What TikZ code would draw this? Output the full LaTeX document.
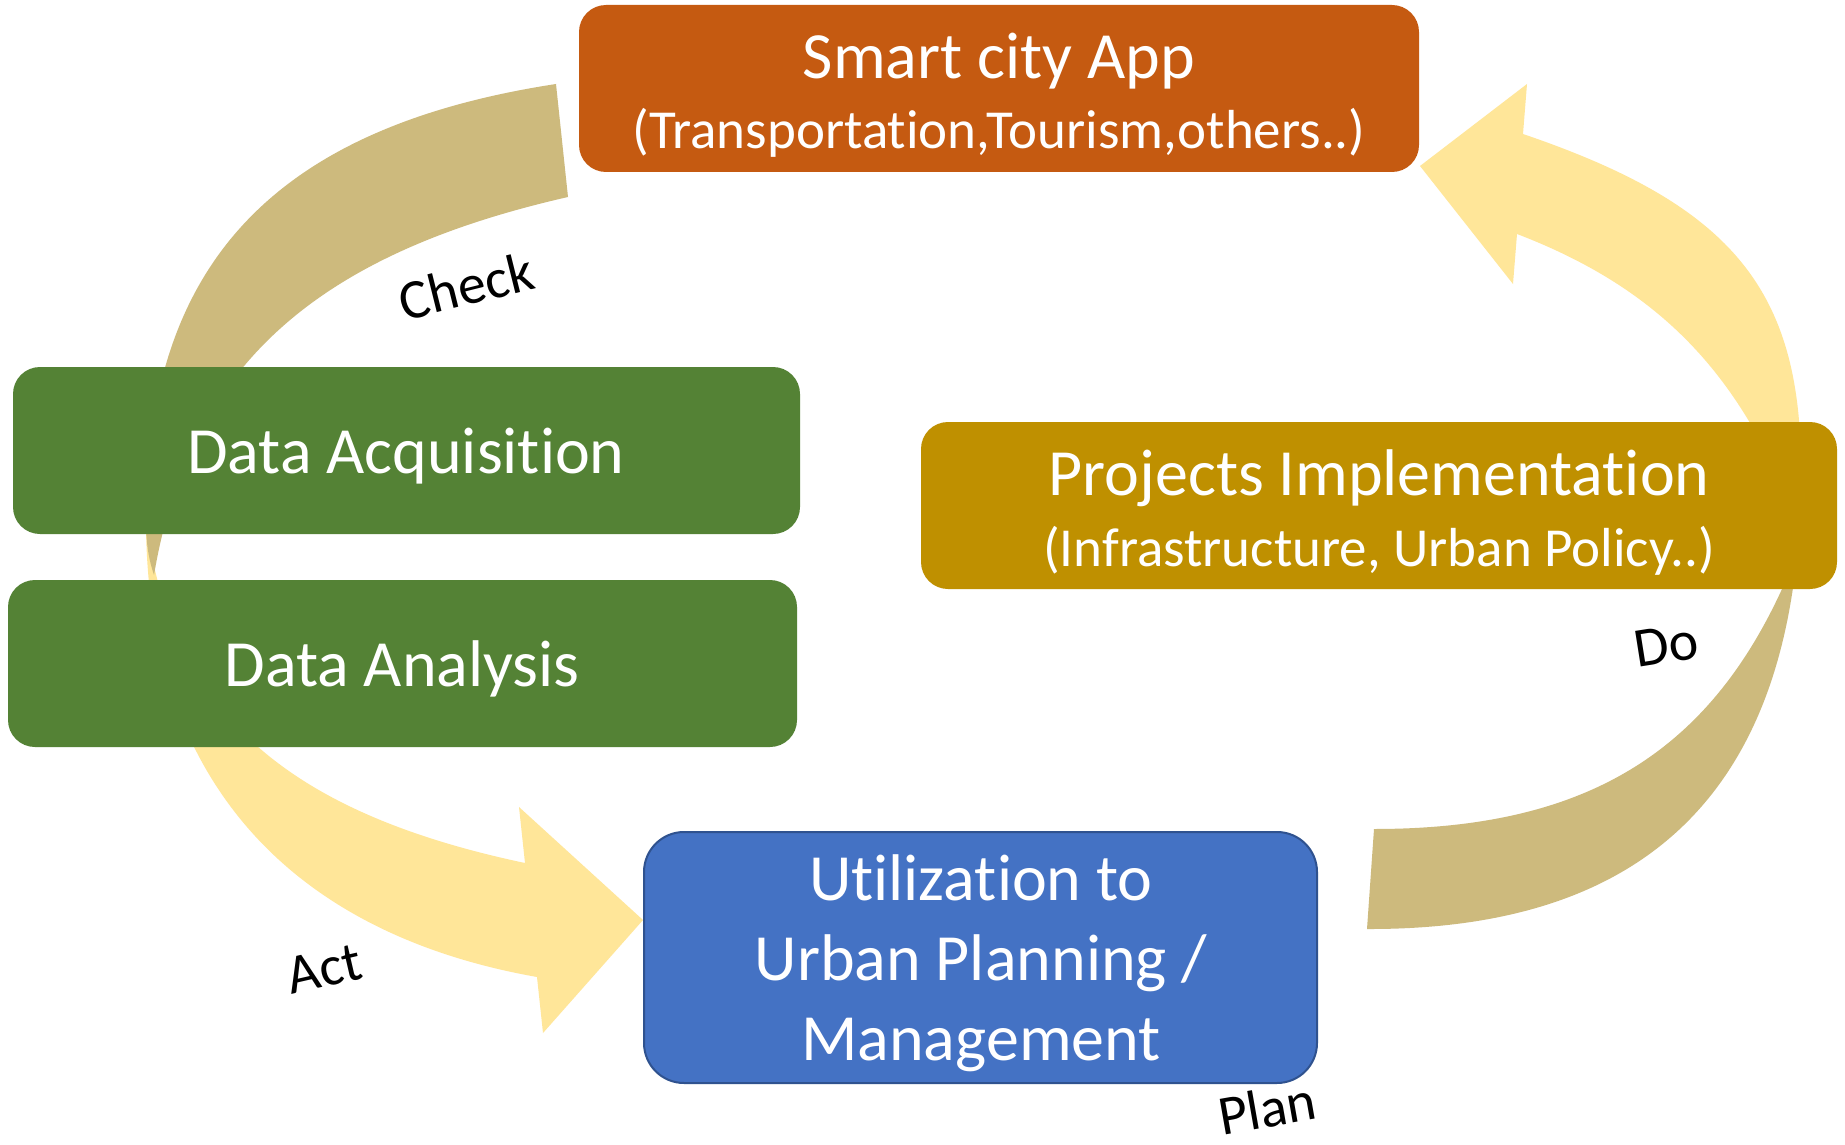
\documentclass[tikz,border=0pt]{standalone}
\usepackage{fontspec}
\setmainfont[Ligatures={NoCommon,NoContextual}, RawFeature={-liga;-clig;-dlig}]{Carlito}
\definecolor{tanc}{RGB}{205,186,125}
\definecolor{yelc}{RGB}{255,230,153}
\definecolor{orangec}{RGB}{197,90,17}
\definecolor{greenc}{RGB}{84,130,53}
\definecolor{goldc}{RGB}{191,144,0}
\definecolor{bluec}{RGB}{68,114,196}
\definecolor{blueb}{RGB}{47,82,143}
\tikzset{
  box/.style={rectangle, rounded corners=27pt, inner sep=0pt, outer sep=0pt},
  ttl/.style={text=white, anchor=base, inner sep=0pt, font=\fontsize{66}{79}\selectfont},
  subt/.style={text=white, anchor=base, inner sep=0pt, font=\fontsize{55}{66}\selectfont},
  lab/.style={text=black, inner sep=0pt, font=\fontsize{56}{66}\selectfont},
}
\begin{document}
\begin{tikzpicture}[x=1pt,y=-1pt]
\useasboundingbox (0,0) rectangle (1845,1145);
\fill[white] (0,0) rectangle (1845,1145);

% left arrow: yellow head part (under)
\fill[yelc] (146,520) .. controls (146,772) and (283,932) .. (537,977)
  -- (543,1033) -- (643,920) -- (519,807) -- (525,863)
  .. controls (283.5,812) and (170,709) .. (146,520) -- cycle;
% left arrow: tan tail part
\fill[tanc] (556,84) .. controls (269,128) and (146,269) .. (146,520)
  .. controls (146,545) and (149,560) .. (154,575)
  .. controls (189,368) and (313,255) .. (568,197) -- cycle;

% right arrow: tan tail part
\fill[tanc] (1801,470) .. controls (1801,779) and (1658,930) .. (1367,929)
  -- (1374,829)
  .. controls (1580,829) and (1705,757) .. (1782,589)
  -- (1801,520) -- cycle;
% right arrow: yellow head part
\fill[yelc] (1420,166) -- (1527,84) -- (1523,134)
  .. controls (1731.5,205) and (1801,289) .. (1801,470)
  -- (1801,500) -- (1775,470)
  .. controls (1721,356) and (1645,283) .. (1517,234)
  -- (1513,284) -- cycle;

% boxes
\node[box, fill=orangec, minimum width=840pt, minimum height=167pt] (sc) at (999,88.5) {};
\node[box, fill=greenc, minimum width=787pt, minimum height=167pt] (da) at (406.5,450.5) {};
\node[box, fill=greenc, minimum width=789pt, minimum height=167pt] (dn) at (402.5,663.5) {};
\node[box, fill=goldc, minimum width=916pt, minimum height=167pt] (pi) at (1379,505.5) {};
\node[box, rounded corners=40pt, fill=bluec, draw=blueb, line width=2pt, minimum width=673pt, minimum height=251pt] (ut) at (980.5,957.5) {};

% box texts
\node[ttl] (tsc) at (999,79) {Smart city App};
\node[subt] (ssc) at (999,149) {(Transportation,Tourism,others..)};
\node[ttl] (tda) at (406,473) {Data Acquisition};
\node[ttl] (tdn) at (402,686) {Data Analysis};
\node[ttl] (tpi) at (1379,495) {Projects Implementation};
\node[subt] (spi) at (1379,566) {(Infrastructure, Urban Policy..)};
\node[ttl] (tu1) at (981,900) {Utilization to};
\node[ttl] (tu2) at (981,980) {Urban Planning /};
\node[ttl] (tu3) at (981,1060) {Management};

% cycle labels
\node[lab, rotate=14] (lcheck) at (466,286) {Check};
\node[lab, rotate=13] (lact) at (324,969) {Act};
\node[lab, rotate=9] (ldo) at (1666,645) {Do};
\node[lab, rotate=10] (lplan) at (1267,1108) {Plan};
\end{tikzpicture}
\end{document}
